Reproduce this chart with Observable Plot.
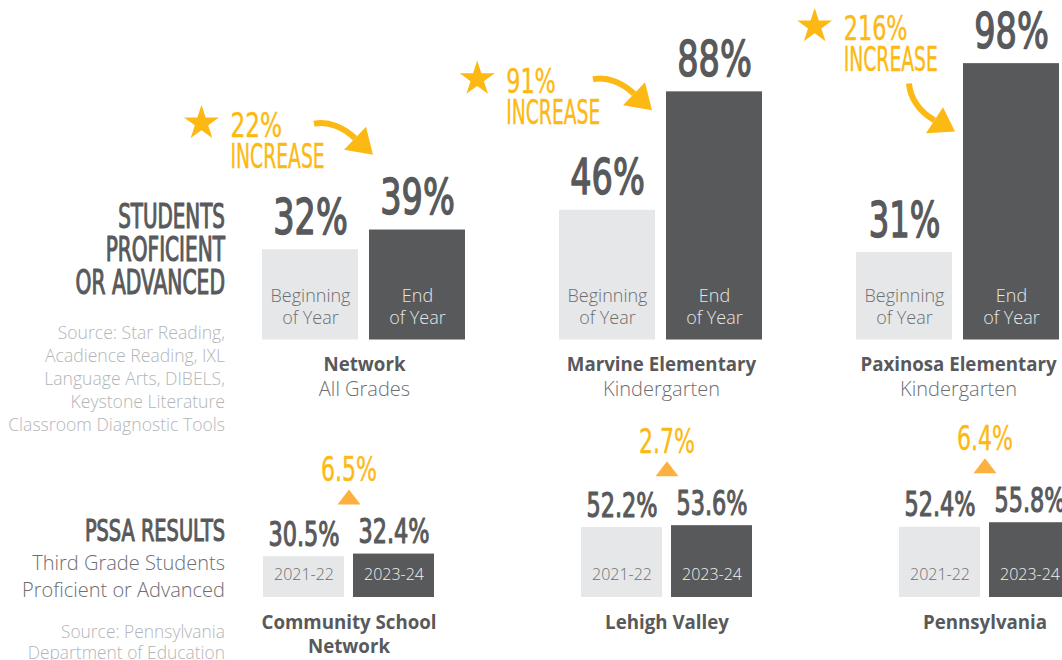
<!DOCTYPE html>
<html>
<head>
<meta charset="utf-8">
<script src="https://cdn.jsdelivr.net/npm/d3@7"></script>
<script src="https://cdn.jsdelivr.net/npm/@observablehq/plot@0.6"></script>
<style>
  html, body { margin: 0; padding: 0; background: #fff; }
  #chart { position: relative; width: 1062px; height: 660px; overflow: hidden; background: #fff; }
  #chart > svg { position: absolute; left: 0; }
</style>
</head>
<body>
<div id="chart"></div>
<script>
// ---------- data ----------
const topGroups = ["Network", "Marvine Elementary", "Paxinosa Elementary"];
const topSubtitles = ["All Grades", "Kindergarten", "Kindergarten"];
const topPeriods = ["Beginning\nof Year", "End\nof Year"];
const topBegin = [32, 46, 31];
const topEnd = [39, 88, 98];
const topIncrease = ["22%", "91%", "216%"];
const increaseWord = "INCREASE";

const bottomGroups = ["Community School\nNetwork", "Lehigh Valley", "Pennsylvania"];
const bottomYears = ["2021-22", "2023-24"];
const bottomFirst = [30.5, 52.2, 52.4];
const bottomSecond = [32.4, 53.6, 55.8];
const bottomChange = ["6.5%", "2.7%", "6.4%"];

const leftTitleTop = ["STUDENTS", "PROFICIENT", "OR ADVANCED"];
const leftSourceTop = ["Source: Star Reading,", "Acadience Reading, IXL", "Language Arts, DIBELS,", "Keystone Literature", "Classroom Diagnostic Tools"];
const leftTitleBottom = ["PSSA RESULTS"];
const leftSubBottom = ["Third Grade Students", "Proficient or Advanced"];
const leftSourceBottom = ["Source: Pennsylvania", "Department of Education"];

// ---------- styles ----------
const GOLD = "#fdb913", DARK = "#58595b", LIGHT = "#e6e7e8", MID = "#6d6e71", PALE = "#b3b5b7", TRI = "#fbb040";
const COND = "Liberation Sans Narrow, DejaVu Sans Condensed, Arial Narrow, sans-serif";
const BODY = "Open Sans, Lato, Noto Sans, sans-serif";

// annotation layout (pixel offsets from the top of the "Beginning" bar)
const topAnnot = [
  {star: [-109, -126.6], arrow: "right", at: [3.5, -126]},
  {star: [-130.3, -131.3], arrow: "right", at: [-14.5, -131]},
  {star: [-89.8, -226.3], arrow: "down", at: [4.5, -169]}
];
const arrowShapes = {
  right: {
    shaft: {draw(c) { c.moveTo(0, 0); c.bezierCurveTo(15, -3, 30, 4, 41, 14.5); }},
    head: {draw(c) { c.moveTo(30, 26); c.lineTo(59, 31); c.lineTo(52, 3); c.closePath(); }}
  },
  down: {
    shaft: {draw(c) { c.moveTo(0, 0); c.bezierCurveTo(1, 14, 10, 28, 25.5, 36.7); }},
    head: {draw(c) { c.moveTo(17, 49.7); c.lineTo(46, 48); c.lineTo(34, 23.7); c.closePath(); }}
  }
};
const flatTriangle = {draw(c) { c.moveTo(-11.5, 7.5); c.lineTo(11.5, 7.5); c.lineTo(0, -7.5); c.closePath(); }};

// ---------- top chart ----------
const topData = topGroups.flatMap((g, i) => [
  {group: g, period: topPeriods[0], value: topBegin[i]},
  {group: g, period: topPeriods[1], value: topEnd[i]}
]);
const topGroupData = topGroups.map((g, i) => ({group: g, sub: topSubtitles[i], begin: topBegin[i], end: topEnd[i], inc: topIncrease[i]}));

const topMarks = [
  Plot.barY(topData, {fx: "group", x: "period", y: "value", fill: "period"}),
  Plot.text(topData, {fx: "group", x: "period", y: "value", text: d => `${d.value}%`, dy: -16, lineAnchor: "bottom",
    fontFamily: COND, fontWeight: "normal", fontSize: 49, fill: DARK, stroke: DARK, strokeWidth: 1.4}),
  Plot.text(topData, {filter: d => d.period === topPeriods[0], fx: "group", x: "period", y: () => 0, text: "period",
    lineAnchor: "bottom", lineHeight: 1.22, dy: -16.5, fontFamily: BODY, fontWeight: 300, fontSize: 18, fill: MID}),
  Plot.text(topData, {filter: d => d.period === topPeriods[1], fx: "group", x: "period", y: () => 0, text: "period",
    lineAnchor: "bottom", lineHeight: 1.22, dy: -16.5, fontFamily: BODY, fontWeight: 300, fontSize: 18, fill: LIGHT}),
  Plot.text(topGroupData, {fx: "group", y: () => 0, text: "group", lineAnchor: "top", dy: 17.5,
    fontFamily: BODY, fontWeight: "bold", fontSize: 18.7, fill: DARK}),
  Plot.text(topGroupData, {fx: "group", y: () => 0, text: "sub", lineAnchor: "top", dy: 41.5,
    fontFamily: BODY, fontWeight: 300, fontSize: 20, fill: MID})
];
topGroupData.forEach((d, i) => {
  const a = topAnnot[i];
  const shp = arrowShapes[a.arrow];
  const base = {fx: "group", x: () => topPeriods[0], y: "begin"};
  topMarks.push(
    Plot.dot([d], {...base, symbol: "star", r: 11, fill: GOLD, stroke: "none", dx: a.star[0], dy: a.star[1]}),
    Plot.text([d], {...base, text: "inc", textAnchor: "start", lineAnchor: "bottom", dx: a.star[0] + 29, dy: a.star[1] + 14,
      fontFamily: COND, fontWeight: "normal", fontSize: 34, fill: GOLD, stroke: GOLD, strokeWidth: 0.4}),
    Plot.text([d], {...base, text: () => increaseWord, textAnchor: "start", lineAnchor: "bottom", dx: a.star[0] + 29, dy: a.star[1] + 45,
      fontFamily: COND, fontWeight: "normal", fontSize: 34, fill: GOLD, stroke: GOLD, strokeWidth: 0.4}),
    Plot.dot([d], {...base, symbol: shp.shaft, r: 1, fill: "none", stroke: GOLD, strokeWidth: 6, dx: a.at[0], dy: a.at[1]}),
    Plot.dot([d], {...base, symbol: shp.head, r: 1, fill: GOLD, stroke: "none", dx: a.at[0], dy: a.at[1]})
  );
});

const topPlot = Plot.plot({
  width: 1062, height: 420,
  marginTop: 57.5, marginBottom: 80.5, marginLeft: 261, marginRight: 0,
  fx: {domain: topGroups, paddingInner: 0.312, paddingOuter: 0, axis: null, label: null},
  x: {domain: topPeriods, paddingInner: 0.102, paddingOuter: 0, axis: null, label: null},
  y: {domain: [0, 100], axis: null},
  color: {domain: topPeriods, range: [LIGHT, DARK]},
  style: {background: "transparent", overflow: "visible"},
  marks: topMarks
});

// ---------- bottom chart ----------
const botData = bottomGroups.flatMap((g, i) => [
  {group: g, year: bottomYears[0], value: bottomFirst[i]},
  {group: g, year: bottomYears[1], value: bottomSecond[i]}
]);
const botGroupData = bottomGroups.map((g, i) => ({group: g, change: bottomChange[i], top: Math.max(bottomFirst[i], bottomSecond[i])}));

const botPlot = Plot.plot({
  width: 1062, height: 240,
  marginTop: 43, marginBottom: 63, marginLeft: 262, marginRight: -8,
  fx: {domain: bottomGroups, paddingInner: 0.463, paddingOuter: 0, axis: null, label: null},
  x: {domain: bottomYears, paddingInner: 0.1, paddingOuter: 0, axis: null, label: null},
  y: {domain: [0, 100], axis: null},
  color: {domain: bottomYears, range: [LIGHT, DARK]},
  style: {background: "transparent", overflow: "visible"},
  marks: [
    Plot.barY(botData, {fx: "group", x: "year", y: "value", fill: "year"}),
    Plot.text(botData, {fx: "group", x: "year", y: "value", text: d => `${d.value.toFixed(1)}%`, dy: -11, lineAnchor: "bottom",
      fontFamily: COND, fontWeight: "normal", fontSize: 33.5, fill: DARK, stroke: DARK, strokeWidth: 1.1}),
    Plot.text(botData, {filter: d => d.year === bottomYears[0], fx: "group", x: "year", y: () => 0, text: "year",
      lineAnchor: "bottom", dy: -18, fontFamily: BODY, fontWeight: 300, fontSize: 16, fill: MID}),
    Plot.text(botData, {filter: d => d.year === bottomYears[1], fx: "group", x: "year", y: () => 0, text: "year",
      lineAnchor: "bottom", dy: -18, fontFamily: BODY, fontWeight: 300, fontSize: 16, fill: "#f1f1f2"}),
    Plot.dot(botGroupData, {fx: "group", y: "top", symbol: flatTriangle, r: 1, fill: TRI, stroke: "none", dy: -57}),
    Plot.text(botGroupData, {fx: "group", y: "top", text: "change", lineAnchor: "bottom", dy: -73,
      fontFamily: COND, fontWeight: "normal", fontSize: 33, fill: GOLD, stroke: GOLD, strokeWidth: 0.4}),
    Plot.text(botGroupData, {fx: "group", y: () => 0, text: "group", lineAnchor: "top", lineHeight: 1.24, dy: 15.5,
      fontFamily: BODY, fontWeight: "bold", fontSize: 18.7, fill: DARK})
  ]
});

// ---------- left labels ----------
const left = d3.create("svg").attr("width", 240).attr("height", 660).style("top", "0px").style("overflow", "visible");
function leftBlock(lines, y0, step, size, weight, fill, family, strokeW) {
  lines.forEach((t, i) => {
    const el = left.append("text").attr("x", 225).attr("y", y0 + i * step).attr("text-anchor", "end")
      .attr("font-family", family).attr("font-size", size).attr("font-weight", weight).attr("fill", fill).text(t);
    if (strokeW) el.attr("stroke", fill).attr("stroke-width", strokeW);
  });
}
leftBlock(leftTitleTop, 227.5, 33, 33.5, "normal", DARK, COND, 1.1);
leftBlock(leftSourceTop, 339, 23, 17.6, 300, PALE, BODY);
leftBlock(leftTitleBottom, 541, 0, 31, "normal", DARK, COND, 1.1);
leftBlock(leftSubBottom, 570, 27, 20, 300, MID, BODY);
leftBlock(leftSourceBottom, 638, 21, 17.4, 300, PALE, BODY);

// ---------- assemble ----------
const chart = document.getElementById("chart");
topPlot.style.top = "0px";
botPlot.style.top = "420px";
chart.append(topPlot, botPlot, left.node());

// condensed display face: fit each condensed label to the width of the original lettering
const CW = {"0": .42, "1": .36, "2": .42, "3": .42, "4": .42, "5": .42, "6": .42, "7": .42, "8": .42, "9": .42,
  "%": .68, ".": .18, " ": .18, "I": .18, "T": .37, "E": .35, "F": .35, "L": .35, "S": .4, "P": .4, "R": .41,
  "U": .42, "A": .44, "D": .44, "V": .44, "N": .44, "C": .44, "O": .44, "M": .52};
function condensedWidth(s, size, thin) {
  let w = 0;
  for (const ch of s) w += CW[ch] ?? 0.4;
  if (thin && /[A-Z]/.test(s)) w *= 0.92;
  return w * size;
}
chart.querySelectorAll("text").forEach(t => {
  const fam = t.closest("[font-family]");
  if (!fam || !/Narrow/.test(fam.getAttribute("font-family"))) return;
  const size = parseFloat(t.closest("[font-size]").getAttribute("font-size"));
  const fEl = t.closest("[fill]");
  const thin = fEl && fEl.getAttribute("fill") === GOLD;
  t.setAttribute("textLength", condensedWidth(t.textContent, size, thin));
  t.setAttribute("lengthAdjust", "spacingAndGlyphs");
});
</script>
</body>
</html>
